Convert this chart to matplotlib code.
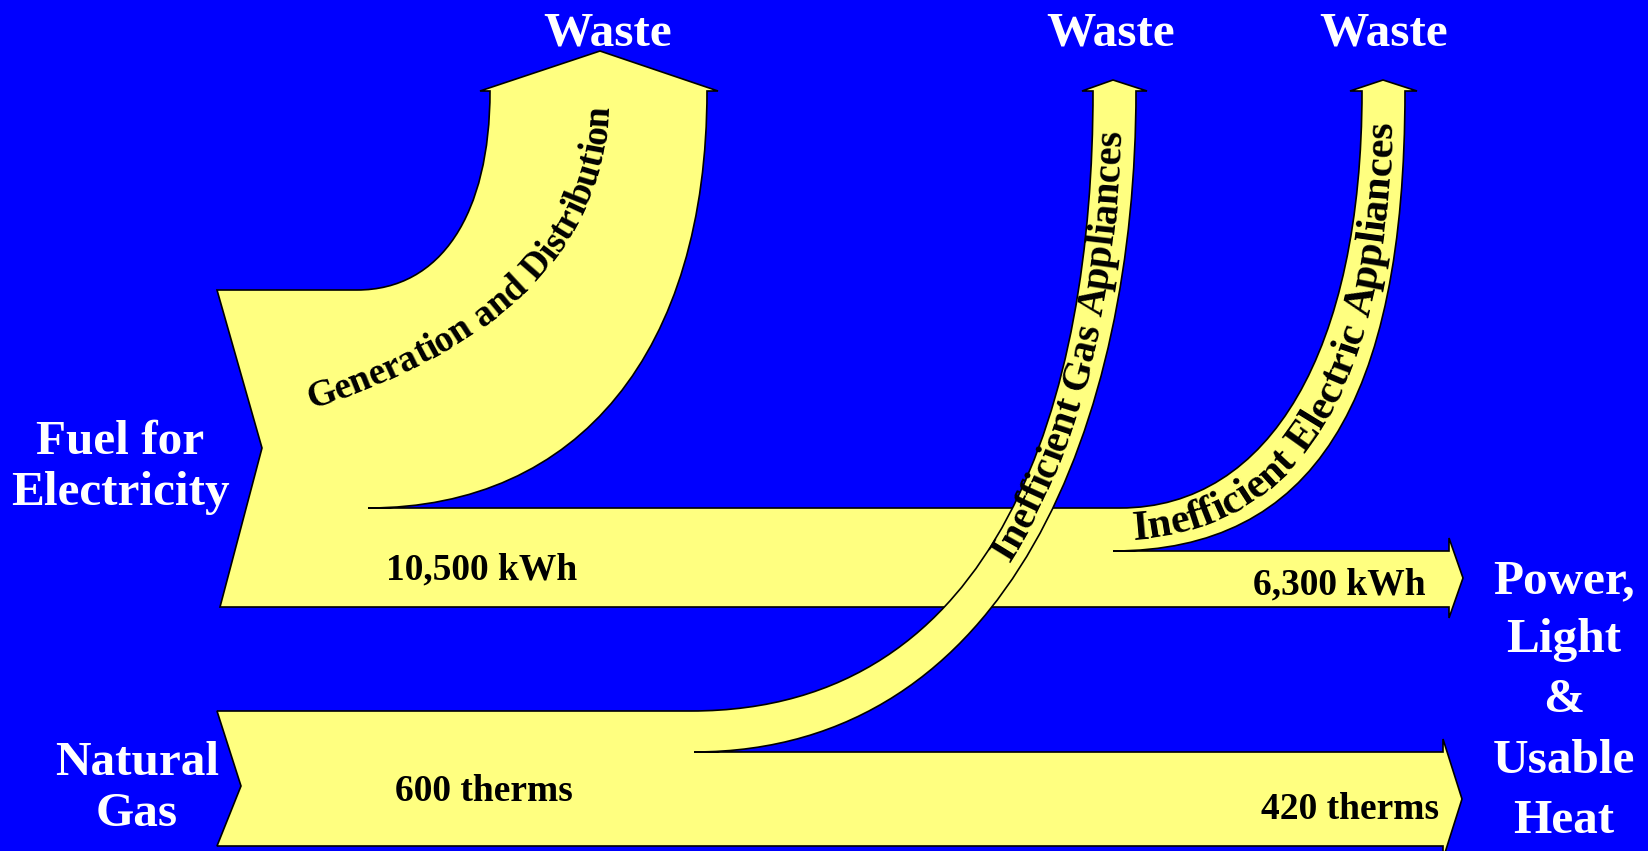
import numpy as np
import matplotlib
matplotlib.use("Agg")
import matplotlib.pyplot as plt
from matplotlib.path import Path
from matplotlib.patches import PathPatch
from matplotlib.font_manager import FontProperties

# labels / values of the flow diagram
source_labels = [["Fuel for", "Electricity"], ["Natural", "Gas"]]
input_amounts = ["10,500 kWh", "600 therms"]
output_amounts = ["6,300 kWh", "420 therms"]
loss_labels = ["Generation and Distribution", "Inefficient Gas Appliances",
               "Inefficient Electric Appliances"]
waste_labels = ["Waste", "Waste", "Waste"]
sink_labels = ["Power,", "Light", "&", "Usable", "Heat"]

BLUE = "#0000FF"
YELLOW = "#FFFF80"
W, H = 1649, 851

fig = plt.figure(figsize=(W / 100, H / 100), dpi=100, facecolor=BLUE)
ax = fig.add_axes([0, 0, 1, 1])
ax.set_xlim(0, W)
ax.set_ylim(H, 0)
ax.set_facecolor(BLUE)
ax.axis("off")

M, L, C = Path.MOVETO, Path.LINETO, Path.CURVE4

# electricity shape (pixel coords, y down)
elec = [
    (M, (217, 290)), (L, (357, 290)),
    (C, (441, 290)), (C, (490, 214)), (C, (490, 91)),
    (L, (480, 91)), (L, (600, 51)), (L, (718, 91)), (L, (707, 91)),
    (C, (707, 351)), (C, (579, 508)), (C, (368, 508)),
    (L, (1120, 508)),
    (C, (1270, 508)), (C, (1362, 350)), (C, (1362, 91)),
    (L, (1350, 91)), (L, (1383, 80)), (L, (1417, 91)), (L, (1405, 91)),
    (C, (1405, 404)), (C, (1312, 551)), (C, (1113, 551)),
    (L, (1449, 551)), (L, (1449, 538)), (L, (1463, 578)), (L, (1449, 618)),
    (L, (1449, 607)), (L, (220, 607)), (L, (262, 448)), (Path.CLOSEPOLY, (217, 290)),
]
gas = [
    (M, (217, 711)), (L, (691, 711)),
    (C, (1000, 711)), (C, (1093, 400)), (C, (1093, 91)),
    (L, (1082, 91)), (L, (1113, 80)), (L, (1147, 91)), (L, (1136, 91)),
    (C, (1136, 420)), (C, (1010, 752)), (C, (694, 752)),
    (L, (1443, 752)), (L, (1443, 739)), (L, (1462, 799)), (L, (1443, 859)),
    (L, (1443, 846)), (L, (217, 846)), (L, (241, 786)), (Path.CLOSEPOLY, (217, 711)),
]
for shape, z in [(elec, 2), (gas, 3)]:
    codes, verts = zip(*shape)
    ax.add_patch(PathPatch(Path(verts, codes), facecolor=YELLOW, edgecolor="black",
                           lw=1.2, zorder=z, joinstyle="miter"))

white = FontProperties(family="Liberation Serif", weight="bold", size=35.5)
black = FontProperties(family="Liberation Serif", weight="bold", size=27)

for x, s in zip([608, 1111, 1384], waste_labels):
    ax.text(x, 45, s, fontproperties=white, color="white", ha="center", va="baseline")

for (x, ys), lines in zip([(120, (454, 505)), (137, (775, 826))], source_labels):
    for y, s in zip(ys, lines):
        ax.text(x, y, s, fontproperties=white, color="white", ha="center", va="baseline")

for y, s in zip([593, 652, 712, 773, 833], sink_labels):
    ax.text(1564, y, s, fontproperties=white, color="white", ha="center", va="baseline")

for (x, y), s in zip([(482, 579), (484, 801)], input_amounts):
    ax.text(x, y, s, fontproperties=black, ha="center", va="baseline", zorder=5)
for (x, y), s in zip([(1339, 594), (1350, 819)], output_amounts):
    ax.text(x, y, s, fontproperties=black, ha="center", va="baseline", zorder=5)


def cubic(P, n=800):
    P = np.asarray(P, float)
    t = np.linspace(0, 1, n)[:, None]
    return (1 - t) ** 3 * P[0] + 3 * (1 - t) ** 2 * t * P[1] + 3 * (1 - t) * t ** 2 * P[2] + t ** 3 * P[3]


renderer = fig.canvas.get_renderer()


def text_on_curve(s, P, prop, start_pt=None, z=6):
    pts = cubic(P)
    arc = np.concatenate([[0], np.cumsum(np.hypot(*np.diff(pts, axis=0).T))])
    start = 0.0
    if start_pt is not None:
        start = arc[np.argmin(np.hypot(pts[:, 0] - start_pt[0], pts[:, 1] - start_pt[1]))]

    def wid(txt):
        return renderer.get_text_width_height_descent(txt, prop, ismath=False)[0]

    wl = wid("l")
    for i, ch in enumerate(s):
        if ch == " ":
            continue
        left = wid(s[:i] + "l") - wl
        sc = start + left + (wid(ch + "l") - wl) / 2
        x = np.interp(sc, arc, pts[:, 0])
        y = np.interp(sc, arc, pts[:, 1])
        k = int(np.clip(np.searchsorted(arc, sc), 1, len(pts) - 2))
        dx, dy = pts[k + 1] - pts[k - 1]
        ang = np.degrees(np.arctan2(-dy, dx))
        ax.text(x, y, ch, fontproperties=prop, rotation=ang, rotation_mode="anchor",
                ha="center", va="baseline", zorder=z)


# text baselines following the bands
gen_base = [(311, 409), (530, 338), (609, 225), (609, 100)]
gas_base = [(693, 740), (1007, 740), (1122, 414), (1122, 91)]
ele_base = [(1115, 540), (1299, 540), (1393, 388), (1393, 91)]

text_on_curve(loss_labels[0], gen_base, black, z=4)
text_on_curve(loss_labels[1], gas_base, FontProperties(family="Liberation Serif", weight="bold", size=29),
              start_pt=(1005, 560))
text_on_curve(loss_labels[2], ele_base, FontProperties(family="Liberation Serif", weight="bold", size=30.5),
              start_pt=(1134, 540))

fig.savefig("out.png", dpi=100, facecolor=BLUE)
